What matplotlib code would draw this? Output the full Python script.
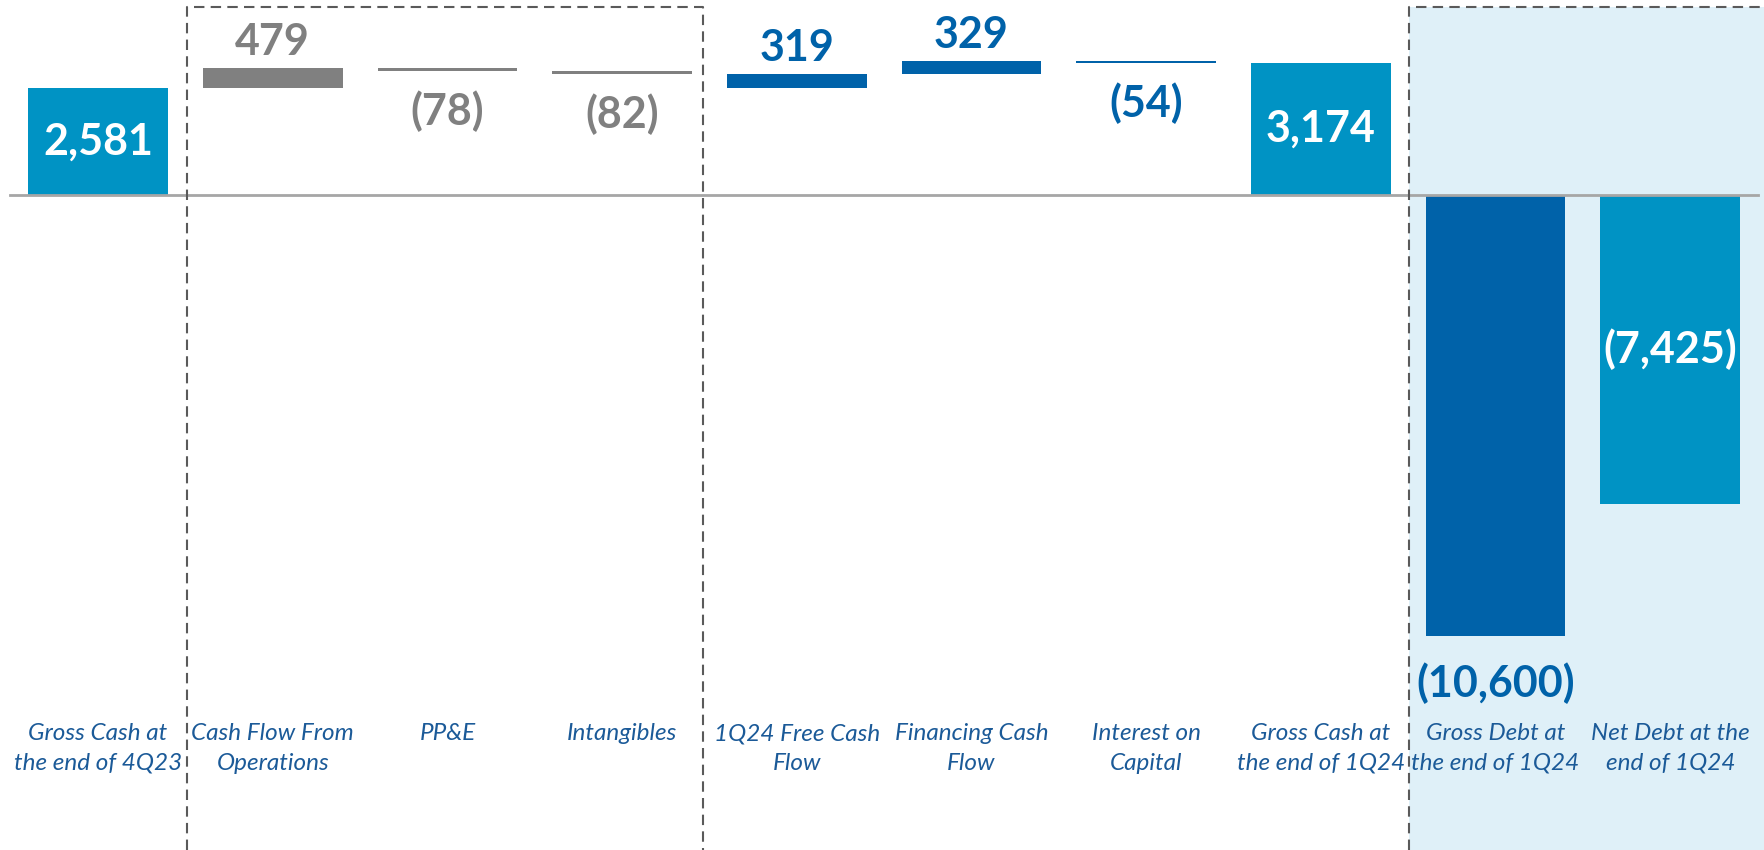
import matplotlib.pyplot as plt
from matplotlib.transforms import blended_transform_factory

# data (R$ million)
categories = ['Gross Cash at\nthe end of 4Q23', 'Cash Flow From\nOperations', 'PP&E', 'Intangibles',
              '1Q24 Free Cash\nFlow', 'Financing Cash\nFlow', 'Interest on\nCapital',
              'Gross Cash at\nthe end of 1Q24', 'Gross Debt at\nthe end of 1Q24', 'Net Debt at the\nend of 1Q24']
values = [2581, 479, -78, -82, 319, 329, -54, 3174, -10600, -7425]
labels = ['2,581', '479', '(78)', '(82)', '319', '329', '(54)', '3,174', '(10,600)', '(7,425)']
# abs = from zero, delta = step from running total, sum = subtotal of previous steps
modes = ['abs', 'delta', 'delta', 'delta', 'sum', 'delta', 'delta', 'abs', 'abs', 'abs']

TEAL = '#0093C4'
DARK = '#0062A9'
GRAY = '#808080'
LABEL_C = '#1B5A98'
SHADE = '#DFF0F8'
colors = [TEAL, GRAY, GRAY, GRAY, DARK, DARK, DARK, TEAL, DARK, TEAL]
inside = [True, False, False, False, False, False, False, True, False, True]

FONT = ['Lato', 'DejaVu Sans']

fig = plt.figure(figsize=(17.65, 8.5), dpi=100)
ax = fig.add_axes([0, 0, 1, 1])
ax.axis('off')
ax.set_xlim(-0.561, 9.542)
ax.set_ylim(-15745, 4688)

# compute waterfall bottoms
bottoms = []
running = 0
for v, m in zip(values, modes):
    if m == 'abs':
        bottoms.append(0)
        running = v
    elif m == 'delta':
        bottoms.append(running)
        running += v
    else:
        bottoms.append(running - v)

x = list(range(len(values)))

# shaded box for debt
trans = blended_transform_factory(ax.transData, ax.transAxes)
ax.axvspan(7.504, 9.542, ymin=0, ymax=0.992, color=SHADE, zorder=0, lw=0)

ax.bar(x, values, bottom=bottoms, width=0.8, color=colors, zorder=2)

# baseline
ax.plot([-0.505, 9.5], [0, 0], color='#A6A6A6', lw=2, zorder=3)

# dashed boxes
dash = dict(color='#5A5A5A', lw=1.5, ls=(0, (5, 3)), transform=trans, zorder=4, clip_on=False)
ax.plot([0.507, 0.507, 3.463, 3.463], [0, 0.992, 0.992, 0], **dash)
ax.plot([7.504, 7.504, 9.6], [0, 0.992, 0.992], **dash)

# value labels
px = 0.0416  # pixels per unit
for i, (v, b, lab) in enumerate(zip(values, bottoms, labels)):
    if inside[i]:
        y, col = b + v / 2, 'white'
    elif v > 0:
        y, col = b + v + 26 / px, colors[i]
    else:
        gap = 47 if modes[i] == 'abs' else 40
        y, col = b + v - gap / px, colors[i]
    ax.text(i, y, lab, ha='center', va='center', fontsize=31, fontweight='bold',
            color=col, family=FONT, zorder=5)

# category labels (top aligned)
for i, c in enumerate(categories):
    ax.text(i, 0.149, c, transform=trans, ha='center', va='top', fontsize=17.5,
            style='italic', color=LABEL_C, family=FONT, linespacing=1.5, zorder=5)

fig.savefig('out.png', dpi=100)
